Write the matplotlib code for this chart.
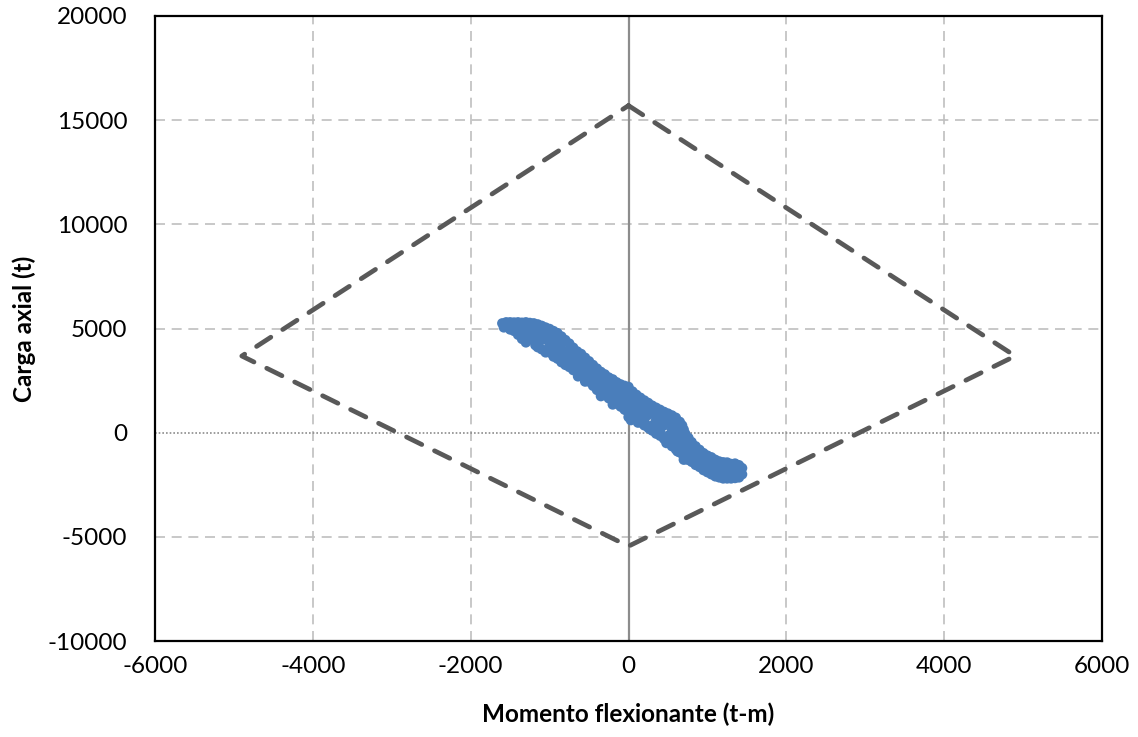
import matplotlib
matplotlib.use("Agg")
import matplotlib.pyplot as plt

plt.rcParams['font.family'] = ['Lato', 'DejaVu Sans']

# Interaction diagram (dashed envelope)
env_m = [0, 4900, 0, -4900, 0]
env_p = [15700, 3680, -5450, 3680, 15700]

# Recorded (moment, axial) pairs
moment = [
    # upper edge
    -1600, -1550, -1500, -1450, -1400, -1350, -1300, -1250, -1200, -1150, -1100, -1050,
    -1000, -950, -900, -850, -800, -750, -700, -650, -600, -550, -500, -450, -400, -350,
    -300, -250, -200, -150, -100, -50, 0, 50, 100, 150, 200, 250, 300, 350, 400, 450, 500,
    550, 600, 650, 680, 700, 720, 760, 800, 850, 900, 950, 1000, 1050, 1100, 1150, 1200,
    1250, 1300, 1350, 1400, 1440,
    # lower edge
    -1580, -1500, -1450, -1400, -1350, -1300, -1250, -1200, -1150, -1100, -1000, -950,
    -900, -850, -800, -750, -700, -650, -600, -550, -500, -450, -400, -350, -300, -250,
    -200, -150, -100, -50, 0, 20, 50, 100, 150, 200, 250, 300, 350, 400, 450, 500, 550,
    600, 650, 700, 750, 800, 850, 900, 950, 1000, 1050, 1100, 1150, 1200, 1250, 1300,
    1350, 1400, 1440,
    # middle
    -1550, -1450, -1350, -1250, -1150, -1050, -950, -850, -750, -650, -550, -450, -350,
    -250, -150, -50, 50, 150, 250, 350, 450, 550, 620, 680, 750, 850, 950, 1050, 1150,
    1250, 1350, 1420,
    # upper-middle
    -1500, -1300, -1100, -900, -700, -500, -300, -100, 100, 300, 500, 650, 750, 900,
    1100, 1300, 1400,
    # lower-middle
    -1400, -1200, -1000, -800, -600, -400, -200, 0, 200, 400, 600, 800, 1000, 1200, 1350,
    # upper quarter
    -1450, -1350, -1250, -1150, -1050, -950, -850, -750, -650, -550, -450, -350, -250,
    -150, -50, 50, 150, 250, 350, 450, 550, 620, 680, 720, 800, 900, 1000, 1100, 1200,
    1300, 1400,
    # lower quarter
    -1500, -1400, -1300, -1200, -1100, -1000, -900, -800, -700, -600, -500, -400, -300,
    -200, -100, 0, 100, 200, 300, 400, 500, 550, 650, 700, 800, 900, 1000, 1100, 1200,
    1300, 1400,
    # scattered low points
    -1300, -1180, -1050, -640, -550, -350, -200, 0, 30, 120, 260, 480, 620, 700,
]
axial = [
    # upper edge
    5250, 5300, 5300, 5290, 5300, 5280, 5300, 5270, 5250, 5200, 5130, 5050,
    4980, 4880, 4780, 4620, 4450, 4280, 4080, 3900, 3780, 3600, 3430, 3250, 3080, 2920,
    2800, 2650, 2560, 2420, 2320, 2250, 2200, 1980, 1820, 1680, 1550, 1430, 1300, 1200, 1100, 1000, 920,
    830, 720, 520, 350, 150, -50, -250, -450, -650, -820, -980, -1100, -1180, -1300, -1380, -1420,
    -1430, -1500, -1480, -1560, -1700,
    # lower edge
    5050, 4950, 4880, 4700, 4500, 4380, 4550, 4420, 4100, 4000, 3850, 3650,
    3550, 3380, 3250, 3150, 3000, 2900, 2800, 2650, 2450, 2250, 2050, 1900, 1800, 1650,
    1500, 1400, 1250, 1100, 950, 800, 700, 650, 500, 350, 250, 100, -50, -150, -300, -450, -650,
    -800, -950, -1150, -1300, -1400, -1550, -1650, -1800, -1900, -2000, -2100, -2150, -2200, -2200, -2200,
    -2180, -2150, -2000,
    # middle
    5150, 5100, 4950, 4900, 4700, 4500, 4250, 4000, 3700, 3400, 3100, 2750, 2400,
    2150, 1900, 1650, 1350, 1100, 850, 600, 350, 100, -100, -300, -700, -1100, -1400, -1600, -1800,
    -1850, -1900, -1850,
    # upper-middle
    5200, 5150, 4900, 4500, 3900, 3300, 2600, 2000, 1600, 1100, 700, 200, -450, -1000,
    -1500, -1700, -1750,
    # lower-middle
    4850, 4600, 4200, 3600, 3100, 2500, 1800, 1300, 800, 300, -400, -1000, -1500, -1950, -2050,
    # upper quarter
    5200, 5180, 5100, 4950, 4750, 4550, 4300, 3980, 3650, 3350, 3000, 2650, 2400,
    2150, 1900, 1650, 1400, 1150, 900, 680, 450, 200, 0, -300, -700, -1050, -1300, -1450, -1600,
    -1650, -1650,
    # lower quarter
    5000, 5000, 4700, 4750, 4450, 4050, 3850, 3600, 3350, 2950, 2800, 2300, 2100,
    1650, 1500, 1100, 1000, 600, 350, 100, -150, -350, -650, -900, -1200, -1400, -1700, -1850, -2050,
    -2050, -2050,
    # scattered low points
    4330, 4200, 3850, 2700, 2450, 1750, 1350, 750, 600, 480, 200, -500, -900, -1300,
]

xticks = [-6000, -4000, -2000, 0, 2000, 4000, 6000]
yticks = [-10000, -5000, 0, 5000, 10000, 15000, 20000]

fig = plt.figure(figsize=(11.38, 7.37), dpi=100)
ax = fig.add_axes([155/1138, (737-641)/737, (1102-155)/1138, (641-16)/737])

ax.set_xlim(-6000, 6000)
ax.set_ylim(-10000, 20000)
ax.set_xticks(xticks)
ax.set_yticks(yticks)
ax.set_xticklabels([str(v) for v in xticks])
ax.set_yticklabels([str(v) for v in yticks])

grid_kw = dict(color='#BFBFBF', lw=1.2, ls=(0, (6, 4)), zorder=0)
for v in xticks[1:-1]:
    if v != 0:
        ax.axvline(v, **grid_kw)
for v in yticks[1:-1]:
    if v != 0:
        ax.axhline(v, **grid_kw)

ax.axhline(0, color='#8C8C8C', lw=1.2, ls=(0, (1, 1.2)), zorder=1)
ax.axvline(0, color='#8C8C8C', lw=1.6, zorder=1)

ax.plot(env_m, env_p, color='#595959', lw=3.4, ls=(0, (3.6, 3.0)),
        dash_capstyle='round', solid_joinstyle='round', zorder=2)

ax.scatter(moment, axial, s=55, color='#4A7EBB', edgecolors='none', zorder=3)

for s in ax.spines.values():
    s.set_color('black')
    s.set_linewidth(1.6)

ax.tick_params(length=0, labelsize=17.5, colors='black')
ax.tick_params(axis='y', pad=20)
ax.tick_params(axis='x', pad=11)

ax.set_xlabel('Momento flexionante (t-m)', fontsize=17.5, fontweight='bold', labelpad=18)
ax.set_ylabel('Carga axial (t)', fontsize=17.5, fontweight='bold', labelpad=8)

fig.savefig('out.png', dpi=100)
